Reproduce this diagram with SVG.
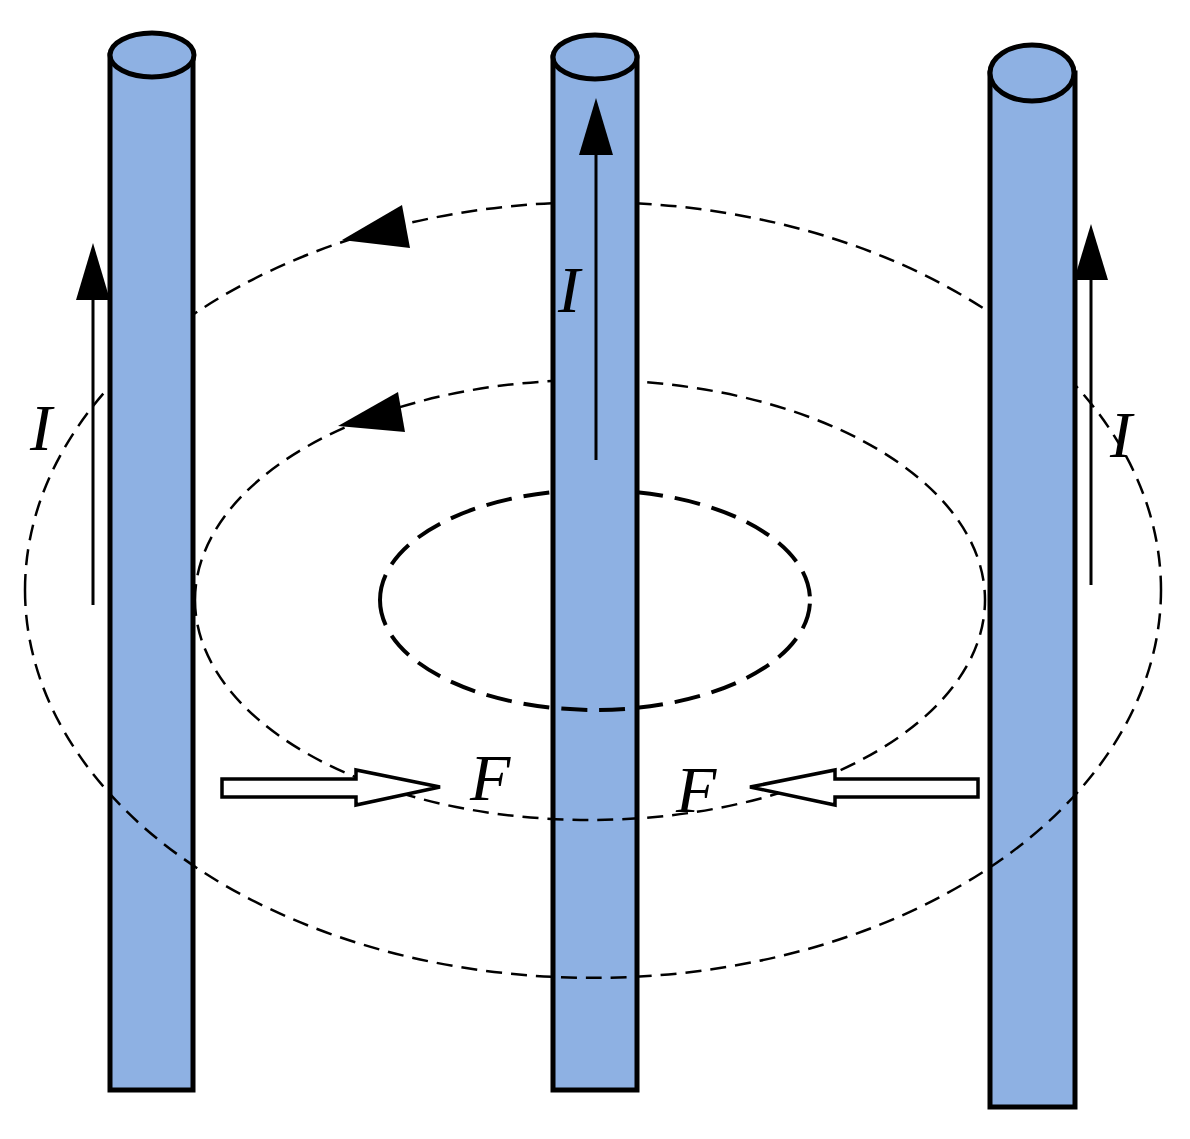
<svg xmlns="http://www.w3.org/2000/svg" width="1190" height="1139" viewBox="0 0 1190 1139">
<style>
.cyl{fill:#8eb1e3;stroke:#000;stroke-width:5}
.d{fill:none;stroke:#000;stroke-width:2.5;stroke-dasharray:16 9}
.d2{fill:none;stroke:#000;stroke-width:4;stroke-dasharray:26 12}
.t{font-family:"Liberation Serif",serif;font-style:italic;font-size:66px}
.cur{stroke:#000;stroke-width:3}
.hol{fill:#fff;stroke:#000;stroke-width:3.5}
</style>
<rect width="1190" height="1139" fill="#fff"/>
<g id="back">
<path class="d" d="M25,590 A568,388 0 0 1 1161,590"/>
<path class="d" d="M195,600 A395,220 0 0 1 985,600"/>
<path class="d2" d="M380,600 A215,110 0 0 1 810,600"/>
</g>
<g id="cyl-left"><path class="cyl" d="M110,55 V1090 H193 V55 Z"/><ellipse class="cyl" cx="152" cy="55" rx="42" ry="22"/></g>
<g id="cyl-mid"><path class="cyl" d="M553,57 V1090 H637 V57 Z"/><ellipse class="cyl" cx="595" cy="57" rx="42" ry="22"/></g>
<g id="cyl-right"><path class="cyl" d="M990,73 V1107 H1075 V73 Z"/><ellipse class="cyl" cx="1032" cy="73" rx="42" ry="28"/></g>
<g id="front">
<path class="d" d="M25,590 A568,388 0 0 0 1161,590"/>
<path class="d" d="M195,600 A395,220 0 0 0 985,600"/>
<path class="d2" d="M380,600 A215,110 0 0 0 810,600"/>
<polygon points="342,240 402,205 410,248"/>
<polygon points="338,426 398,392 405,432"/>
</g>
<g id="currents">
<line class="cur" x1="93" y1="605" x2="93" y2="298"/><polygon points="93,243 76,300 110,300"/>
<line class="cur" x1="596" y1="460" x2="596" y2="153"/><polygon points="596,98 579,155 613,155"/>
<line class="cur" x1="1091" y1="585" x2="1091" y2="278"/><polygon points="1091,224 1074,280 1108,280"/>
<text class="t" x="30" y="450">I</text>
<text class="t" x="558" y="312">I</text>
<text class="t" x="1110" y="457">I</text>
</g>
<g id="forces">
<polygon class="hol" points="222,779 356,779 356,770 440,787 356,805 356,797 222,797"/>
<polygon class="hol" points="978,779 835,779 835,770 750,787 835,805 835,797 978,797"/>
<text class="t" x="470" y="800">F</text>
<text class="t" x="676" y="812">F</text>
</g>
</svg>
